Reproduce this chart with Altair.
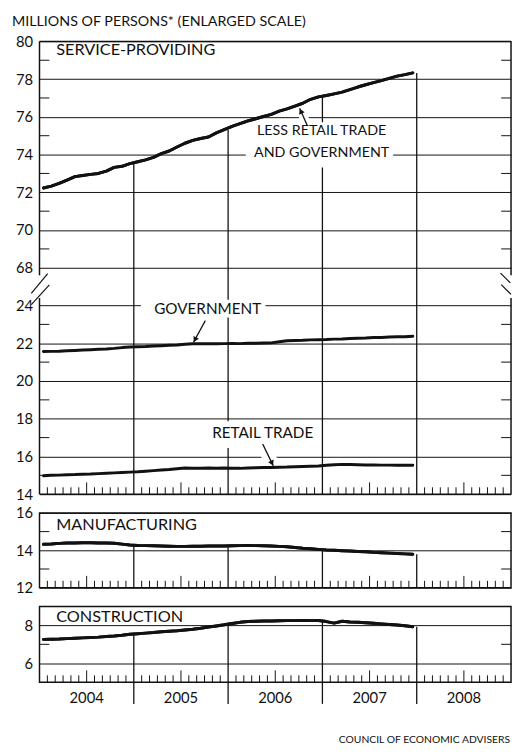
import math
import altair as alt
import pandas as pd

# ---------------- data (millions of persons, monthly Jan 2004 .. Dec 2007) ----------------
month_index = list(range(48))

service_less_retail_gov = [72.23, 72.33, 72.47, 72.65, 72.83, 72.89, 72.95, 73.00, 73.12, 73.32, 73.38, 73.52,
                           73.62, 73.72, 73.85, 74.05, 74.19, 74.40, 74.60, 74.75, 74.85, 74.93, 75.15, 75.32,
                           75.50, 75.64, 75.78, 75.90, 76.02, 76.13, 76.30, 76.42, 76.57, 76.72, 76.93, 77.06,
                           77.13, 77.22, 77.31, 77.44, 77.58, 77.70, 77.81, 77.92, 78.04, 78.16, 78.24, 78.33]

government = [21.56, 21.57, 21.58, 21.60, 21.62, 21.64, 21.66, 21.68, 21.70, 21.73, 21.77, 21.80,
              21.82, 21.83, 21.85, 21.87, 21.89, 21.91, 21.95, 21.97, 21.97, 21.98, 21.97, 21.98,
              21.99, 21.98, 22.00, 22.00, 22.01, 22.02, 22.08, 22.13, 22.15, 22.16, 22.18, 22.19,
              22.20, 22.22, 22.23, 22.25, 22.27, 22.28, 22.30, 22.31, 22.33, 22.34, 22.35, 22.37]

retail_trade = [14.98, 15.00, 15.01, 15.03, 15.04, 15.06, 15.07, 15.09, 15.11, 15.13, 15.15, 15.17,
                15.19, 15.22, 15.25, 15.28, 15.31, 15.35, 15.39, 15.38, 15.38, 15.39, 15.38, 15.39,
                15.38, 15.37, 15.39, 15.40, 15.41, 15.42, 15.43, 15.44, 15.46, 15.47, 15.48, 15.49,
                15.53, 15.56, 15.58, 15.57, 15.56, 15.55, 15.55, 15.54, 15.54, 15.53, 15.53, 15.53]

manufacturing = [14.32, 14.34, 14.37, 14.39, 14.39, 14.40, 14.40, 14.39, 14.39, 14.38, 14.33, 14.28,
                 14.26, 14.25, 14.24, 14.23, 14.22, 14.21, 14.21, 14.22, 14.22, 14.23, 14.23, 14.23,
                 14.24, 14.25, 14.26, 14.25, 14.24, 14.23, 14.21, 14.19, 14.15, 14.11, 14.08, 14.05,
                 14.02, 14.00, 13.98, 13.96, 13.94, 13.92, 13.89, 13.87, 13.85, 13.83, 13.81, 13.79]

construction = [7.26, 7.27, 7.28, 7.30, 7.32, 7.34, 7.36, 7.38, 7.41, 7.44, 7.48, 7.53,
                7.56, 7.59, 7.62, 7.66, 7.69, 7.72, 7.76, 7.80, 7.85, 7.91, 7.97, 8.03,
                8.10, 8.16, 8.20, 8.22, 8.23, 8.23, 8.24, 8.25, 8.25, 8.26, 8.25, 8.26,
                8.20, 8.12, 8.22, 8.18, 8.16, 8.14, 8.11, 8.08, 8.05, 8.02, 7.98, 7.93]

year_labels = ["2004", "2005", "2006", "2007", "2008"]
year_boundaries = [12, 24, 36, 48]

title_text = "MILLIONS OF PERSONS* (ENLARGED SCALE)"
footer_text = "COUNCIL OF ECONOMIC ADVISERS"

# ---------------- layout constants ----------------
W = 479
HT, HM, HC = 460, 76, 77
OFFSET = 42            # lower block (14-24) drawn at 56-66 on the broken axis
PX = W / 60.0
PYT = HT / 24.0
FONT = "Lato"
INK = "#111111"

xscale = alt.Scale(domain=[0, 60], nice=False, zero=False)
m_mid = [i + 0.5 for i in month_index]


def X(field):
    return alt.X(f"{field}:Q", scale=xscale, axis=None)


def make_axis(values, expr):
    return alt.Axis(values=values, labelExpr=expr, grid=True, gridColor=INK, gridWidth=1,
                    ticks=False, domain=False, labelPadding=7, title=None, labelFont=FONT,
                    labelFontSize=15, labelColor=INK, labelOverlap=False)


class Panel:
    def __init__(self, domain, values, expr):
        self.scale = alt.Scale(domain=domain, nice=False, zero=False)
        self.axis = make_axis(values, expr)

    def Y(self, field):
        return alt.Y(f"{field}:Q", scale=self.scale, axis=self.axis)


def month_ticks(h):
    small = [m for m in range(1, 60) if m % 12 != 0 and m % 6 != 0]
    tall = [m for m in range(1, 60) if m % 12 == 6]
    s = alt.Chart(pd.DataFrame({"m": small})).mark_rule(color=INK, strokeWidth=1).encode(
        x=X("m"), y=alt.value(h), y2=alt.value(h - 7))
    t = alt.Chart(pd.DataFrame({"m": tall})).mark_rule(color=INK, strokeWidth=1).encode(
        x=X("m"), y=alt.value(h), y2=alt.value(h - 12))
    return [s, t]


def minor_ticks(values, p):
    df = pd.DataFrame({"v": values})
    left = alt.Chart(df).mark_rule(color=INK, strokeWidth=1).encode(
        y=p.Y("v"), x=alt.value(0), x2=alt.value(10))
    right = alt.Chart(df).mark_rule(color=INK, strokeWidth=1).encode(
        y=p.Y("v"), x=alt.value(W - 10), x2=alt.value(W))
    return [left, right]


def halo(x1, y1, x2, y2, p, width):
    return alt.Chart(pd.DataFrame({"x": [x1], "y": [y1], "x2": [x2], "y2": [y2]})).mark_rule(
        color="white", strokeWidth=width).encode(x=X("x"), x2="x2:Q", y=p.Y("y"), y2="y2:Q")


def arrow(x1, y1, x2, y2, p, py):
    dxp = (x2 - x1) * PX
    dyp = -(y2 - y1) * py
    ang = math.degrees(math.atan2(dxp, -dyp)) % 360
    L = math.hypot(dxp, dyp)
    cx = x2 - (dxp / L) * 3 / PX
    cy = y2 + (dyp / L) * 3 / py
    shaft = alt.Chart(pd.DataFrame({"x": [x1], "y": [y1], "x2": [x2], "y2": [y2]})).mark_rule(
        color=INK, strokeWidth=1.3).encode(x=X("x"), x2="x2:Q", y=p.Y("y"), y2="y2:Q")
    head = alt.Chart(pd.DataFrame({"x": [cx], "y": [cy]})).mark_point(
        shape="triangle-up", filled=True, color=INK, size=38, opacity=1, angle=ang).encode(
        x=X("x"), y=p.Y("y"))
    return [shaft, head]


def white_box(x1, x2, y1, y2, p):
    return alt.Chart(pd.DataFrame({"x": [x1], "x2": [x2], "y": [y1], "y2": [y2]})).mark_rect(
        color="white").encode(x=X("x"), x2="x2:Q", y=p.Y("y"), y2="y2:Q")


def label(x, y, txt, p, align="left", size=15.5):
    return alt.Chart(pd.DataFrame({"x": [x], "y": [y], "t": [txt]})).mark_text(
        font=FONT, fontSize=size, color=INK, align=align, baseline="middle").encode(
        x=X("x"), y=p.Y("y"), text="t:N")


def series(field, p, df):
    return alt.Chart(df).mark_line(color=INK, strokeWidth=3, strokeJoin="round", strokeCap="round").encode(
        x=X("m"), y=p.Y(field))


def drops(values, low, p):
    df = pd.DataFrame({"m": year_boundaries, "lo": [low] * len(year_boundaries),
                       "hi": [values[b - 1] for b in year_boundaries]})
    return alt.Chart(df).mark_rule(color=INK, strokeWidth=1.3).encode(x=X("m"), y=p.Y("lo"), y2="hi:Q")


# ---------------- top panel (broken scale) ----------------
top_axis_values = list(range(56, 67, 2)) + list(range(68, 81, 2))
pt = Panel([56, 80], top_axis_values, f"datum.value <= 66 ? datum.value - {OFFSET} : datum.value")
top_df = pd.DataFrame({
    "m": m_mid,
    "svc": service_less_retail_gov,
    "gov": [v + OFFSET for v in government],
    "ret": [v + OFFSET for v in retail_trade],
})

frame_top = alt.Chart(pd.DataFrame({
    "x": [0, 0, 0, 0, 60, 60], "x2": [60, 60, 0, 0, 60, 60],
    "y": [80, 56, 56, 67.6, 56, 67.6], "y2": [80, 56, 66.4, 80, 66.4, 80]})).mark_rule(
    color=INK, strokeWidth=1.5).encode(x=X("x"), x2="x2:Q", y=pt.Y("y"), y2="y2:Q")

gap_cover = alt.Chart(pd.DataFrame({"x": [0, 60], "y": [66.4, 66.4], "y2": [67.6, 67.6]})).mark_rule(
    color="white", strokeWidth=3).encode(x=X("x"), y=pt.Y("y"), y2="y2:Q")

breaks = alt.Chart(pd.DataFrame({
    "x": [1.04, 1.25, 58.66, 58.75], "x2": [-1.04, -1.04, 59.91, 60.0],
    "y": [67.69, 67.09, 67.72, 67.11], "y2": [66.65, 66.05, 67.2, 66.59]})).mark_rule(
    color=INK, strokeWidth=1.2).encode(x=X("x"), x2="x2:Q", y=pt.Y("y"), y2="y2:Q")

title = alt.Chart(pd.DataFrame({"t": [title_text]})).mark_text(
    font=FONT, fontSize=14.5, color=INK, align="left", baseline="middle").encode(
    x=alt.value(-28), y=alt.value(-19.5), text="t:N")

top_layers = [series("svc", pt, top_df), drops(service_less_retail_gov, 56, pt)]
top_layers += month_ticks(HT)
top_layers += minor_ticks([57, 59, 61, 63, 65] + list(range(69, 80, 2)), pt)
top_layers += [
    white_box(26.25, 45.0, 75.72, 73.32, pt),
    white_box(12.9, 28.75, 66.3, 65.36, pt),
    white_box(21.5, 34.75, 59.86, 58.45, pt),
    halo(34.1, 75.51, 33.3, 76.3, pt, 9),
    halo(28.4, 58.66, 29.6, 57.6, pt, 14),
    gap_cover, frame_top, breaks,
    series("svc", pt, top_df), series("gov", pt, top_df), series("ret", pt, top_df),
    label(2.13, 79.55, "SERVICE-PROVIDING", pt, size=16.5),
    label(35.9, 75.25, "LESS RETAIL TRADE", pt, align="center", size=14.5),
    label(35.9, 74.08, "AND GOVERNMENT", pt, align="center", size=14.5),
    label(21.4, 65.83, "GOVERNMENT", pt, align="center"),
    label(28.4, 59.24, "RETAIL TRADE", pt, align="center"),
    title,
]
top_layers += arrow(34.1, 75.51, 33.1, 76.45, pt, PYT)
top_layers += arrow(21.1, 65.2, 19.6, 64.05, pt, PYT)
top_layers += arrow(28.4, 58.66, 29.75, 57.5, pt, PYT)

top = alt.layer(*top_layers).properties(width=W, height=HT, view=alt.ViewBackground(strokeOpacity=0))

# ---------------- manufacturing ----------------
pm = Panel([12, 16], [12, 14, 16], "datum.label")
man_df = pd.DataFrame({"m": m_mid, "v": manufacturing})
man_layers = [series("v", pm, man_df), drops(manufacturing, 12, pm)] + month_ticks(HM) + \
    minor_ticks([13, 15], pm) + [series("v", pm, man_df), label(2.13, 15.34, "MANUFACTURING", pm, size=16.5)]
man = alt.layer(*man_layers).properties(width=W, height=HM)

# ---------------- construction ----------------
pc = Panel([5, 9], [6, 8], "datum.label")
con_df = pd.DataFrame({"m": m_mid, "v": construction})
separators = alt.Chart(pd.DataFrame({"m": year_boundaries})).mark_rule(color=INK, strokeWidth=1.3).encode(
    x=X("m"), y=alt.value(HC), y2=alt.value(HC + 22))
years = alt.Chart(pd.DataFrame({"m": [12 * i + 6 for i in range(5)], "t": year_labels})).mark_text(
    font=FONT, fontSize=15, color=INK, baseline="middle").encode(
    x=X("m"), y=alt.value(HC + 16), text="t:N")
footer = alt.Chart(pd.DataFrame({"t": [footer_text]})).mark_text(
    font=FONT, fontSize=10.5, color=INK, align="right", baseline="middle").encode(
    x=alt.value(W - 1), y=alt.value(136), text="t:N")
con_layers = [series("v", pc, con_df), drops(construction, 5, pc)] + month_ticks(HC) + \
    minor_ticks([7], pc) + [series("v", pc, con_df), label(2.13, 8.43, "CONSTRUCTION", pc, size=16.5),
                            separators, years, footer]
con = alt.layer(*con_layers).properties(width=W, height=HC)

chart = alt.vconcat(top, man, con, spacing=19, bounds="flush").properties(
    padding={"left": 4, "top": 0, "right": 0, "bottom": 0},
    background="white",
).configure_view(stroke=INK, strokeWidth=1.5)

chart.save("out.html", embed_options={"renderer": "svg", "actions": False})
